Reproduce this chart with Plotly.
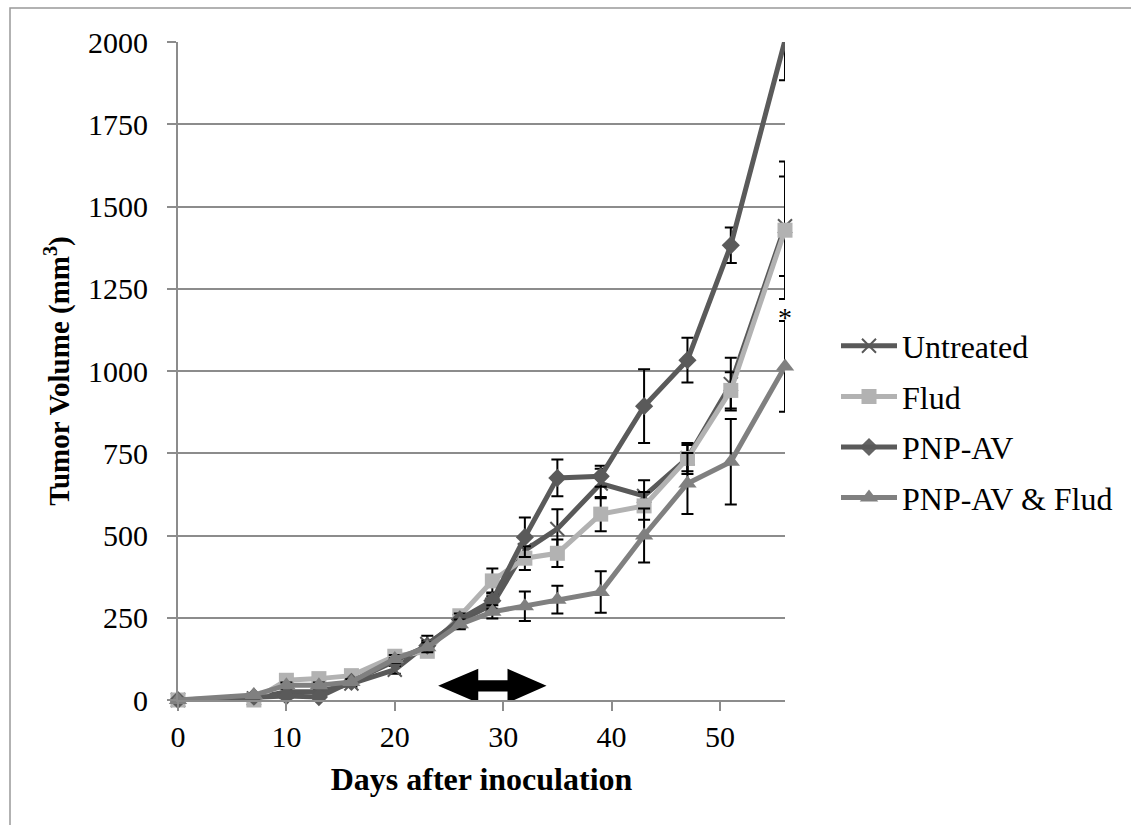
import plotly.graph_objects as go

# ---------------- data ----------------
days = [0, 7, 10, 13, 16, 20, 23, 26, 29, 32, 35, 39, 43, 47, 51, 56]

untreated = [0, 5, 25, 25, 50, 92, 170, 240, 290, 455, 520, 658, 620, 735, 960, 1440]
untreated_err = [0, 3, 8, 8, 10, 12, 25, 20, 25, 40, 60, 45, 48, 40, 80, 151]

flud = [0, 0, 60, 65, 74, 133, 148, 256, 362, 431, 446, 565, 590, 734, 941, 1428]
flud_err = [0, 3, 8, 8, 8, 12, 15, 15, 38, 36, 42, 52, 42, 47, 55, 209]

pnp_av = [0, 10, 12, 9, 55, 115, 165, 245, 302, 495, 675, 680, 893, 1033, 1382, 2005]
pnp_av_err_plus = [0, 3, 5, 5, 8, 12, 15, 18, 25, 60, 56, 32, 112, 68, 54, 0]
pnp_av_err_minus = [0, 3, 5, 5, 8, 12, 15, 18, 25, 60, 56, 32, 112, 68, 54, 121]

combo = [0, 15, 45, 45, 55, 125, 160, 230, 268, 285, 305, 328, 500, 658, 724, 1014]
combo_err = [0, 3, 8, 8, 8, 12, 15, 15, 20, 45, 42, 63, 82, 93, 130, 138]

series_names = ["Untreated", "Flud", "PNP-AV", "PNP-AV & Flud"]

x_ticks = [0, 10, 20, 30, 40, 50]
y_ticks = [0, 250, 500, 750, 1000, 1250, 1500, 1750, 2000]

significance_day = 56
significance_value = 1164

Y_MAX = 2000

# ---------------- layout geometry ----------------
W, H = 1131, 825
L, R, T, B = 178, 346, 42, 125
PW, PH = W - L - R, H - T - B


def pxx(px):
    return (px - L) / PW


def pxy(py):
    return (H - B - py) / PH


FONT = "Liberation Serif"
GRID = "#8c8c8c"

fig = go.Figure()

styles = [
    dict(color="#595959", symbol="x-thin-open", size=14),
    dict(color="#b2b2b2", symbol="square", size=15),
    dict(color="#5a5a5a", symbol="diamond", size=14),
    dict(color="#808080", symbol="triangle-up", size=16),
]
values = [untreated, flud, pnp_av, combo]
errs = [
    dict(array=untreated_err),
    dict(array=flud_err),
    dict(array=pnp_av_err_plus, arrayminus=pnp_av_err_minus, symmetric=False),
    dict(array=combo_err),
]

for name, vals, st, er in zip(series_names, values, styles, errs):
    # points above the axis maximum are clipped in the original (marker hidden)
    opac = [1 if v <= Y_MAX else 0 for v in vals]
    if st["symbol"] == "x-thin-open":
        marker = dict(symbol=st["symbol"], size=st["size"], color=st["color"],
                      opacity=opac, line=dict(width=2, color=st["color"]))
    else:
        marker = dict(symbol=st["symbol"], size=st["size"], color=st["color"],
                      opacity=opac, line=dict(width=0))
    e = dict(type="data", color="black", thickness=2, width=6, visible=True)
    e.update(er)
    fig.add_trace(go.Scatter(
        x=days, y=vals, name=name, mode="lines+markers",
        line=dict(color=st["color"], width=5),
        marker=marker, error_y=e, cliponaxis=False, legendgroup=name,
    ))

# double-headed treatment arrow (days 24-34)
ax0, ab0, ab1, ax1 = 24.0, 27.7, 30.4, 34.0
ayc, ahh, abh = 43, 52, 17
arrow_path = (
    f"M {ax0} {ayc} L {ab0} {ayc + ahh} L {ab0} {ayc + abh} L {ab1} {ayc + abh} "
    f"L {ab1} {ayc + ahh} L {ax1} {ayc} L {ab1} {ayc - ahh} L {ab1} {ayc - abh} "
    f"L {ab0} {ayc - abh} L {ab0} {ayc - ahh} Z"
)

shapes = [
    dict(type="path", xref="x", yref="y", path=arrow_path,
         fillcolor="black", line=dict(color="black", width=0), layer="above"),
    # outer chart border (left and top visible)
    dict(type="rect", xref="paper", yref="paper",
         x0=pxx(10), x1=pxx(1140), y0=pxy(840), y1=pxy(8),
         line=dict(color="#999999", width=1.5), fillcolor="rgba(0,0,0,0)",
         layer="below"),
]

fig.update_layout(
    width=W, height=H,
    margin=dict(l=L, r=R, t=T, b=B, pad=0),
    paper_bgcolor="white", plot_bgcolor="white",
    font=dict(family=FONT, color="black", size=30),
    shapes=shapes,
    showlegend=True,
    legend=dict(
        x=pxx(836), y=pxy(422), xanchor="left", yanchor="middle",
        font=dict(family=FONT, size=32, color="black"),
        itemwidth=56, tracegroupgap=6, traceorder="grouped",
        bgcolor="rgba(0,0,0,0)", borderwidth=0,
    ),
    annotations=[
        dict(x=significance_day, y=significance_value, xref="x", yref="y",
             text="*", showarrow=False,
             font=dict(family=FONT, size=28, color="black")),
    ],
)

fig.update_xaxes(
    range=[0, 56], tickmode="array", tickvals=x_ticks,
    ticktext=[str(v) for v in x_ticks],
    showgrid=False, zeroline=False,
    showline=True, linecolor=GRID, linewidth=2,
    ticks="outside", ticklen=9, tickwidth=2, tickcolor=GRID,
    tickfont=dict(family=FONT, size=30, color="black"),
    title=dict(text="<b>Days after inoculation</b>",
               font=dict(family=FONT, size=32, color="black"), standoff=16),
)
fig.update_yaxes(
    range=[0, Y_MAX], tickmode="array", tickvals=y_ticks,
    ticktext=[str(v) for v in y_ticks],
    showgrid=True, gridcolor=GRID, gridwidth=1.5, zeroline=False,
    showline=True, linecolor=GRID, linewidth=2,
    ticks="outside", ticklen=9, tickwidth=2, tickcolor=GRID,
    ticklabelstandoff=13,
    tickfont=dict(family=FONT, size=30, color="black"),
    title=dict(text="<b>Tumor Volume (mm<sup>3</sup>)</b>",
               font=dict(family=FONT, size=29, color="black"), standoff=10),
)

fig.write_html("out.html")
